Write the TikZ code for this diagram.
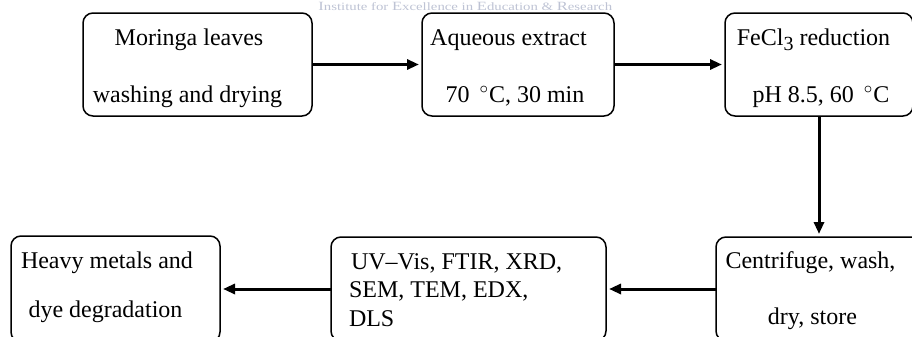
\documentclass[tikz,border=0pt]{standalone}
\usepackage{fontspec}
\setmainfont{Liberation Serif}
\usetikzlibrary{arrows.meta}
\definecolor{wmc}{RGB}{190,195,212}
\begin{document}
\begin{tikzpicture}[x=0.5pt,y=-0.5pt,
  box/.style={draw, line width=0.75pt, rounded corners=5pt, inner sep=0pt, outer sep=0pt},
  txt/.style={inner sep=0pt, outer sep=0pt, font=\fontsize{12}{14}\selectfont},
  arr/.style={line width=1.5pt, -{Triangle[length=6pt,width=5pt]}, shorten >=1.5pt}]
\useasboundingbox (0,0) rectangle (912,337);
\clip (0,0) rectangle (912,337);
% watermark
\node[inner sep=0pt, anchor=base west, text=wmc, font=\fontsize{6.6}{8}\selectfont] (wm) at (318,10.5)
  {\scalebox{1.12}[0.85]{{\fontsize{7.4}{9}\selectfont I}nstitute for {\fontsize{7.4}{9}\selectfont E}xcellence in {\fontsize{7.4}{9}\selectfont E}ducation \& {\fontsize{7.4}{9}\selectfont R}esearch}};
% boxes
\node[box, minimum width=114.5pt, minimum height=51.5pt] (b1) at (197.5,64.5) {};
\node[box, minimum width=96pt,    minimum height=51.5pt] (b2) at (518,64.5) {};
\node[box, minimum width=94pt,    minimum height=51.5pt] (b3) at (819,64.5) {};
\node[box, minimum width=103pt,   minimum height=52pt]   (b4) at (819,289) {};
\node[box, minimum width=137.5pt, minimum height=52pt]   (b5) at (468.5,289) {};
\node[box, minimum width=104.5pt, minimum height=53pt]   (b6) at (115.5,289) {};
% texts
\node[txt, anchor=base] (t1a) at (189,46) {Moringa leaves};
\node[txt, anchor=base] (t1b) at (187.5,102) {washing and drying};
\node[txt, anchor=base] (t2a) at (508.5,46) {Aqueous extract};
\node[txt, anchor=base] (t2b) at (515,102.5) {70 \,$^\circ$C, 30 min};
\node[txt, anchor=base] (t3a) at (813.5,46) {FeCl\raisebox{-0.45ex}{\fontsize{10}{11}\selectfont 3} reduction};
\node[txt, anchor=base] (t3b) at (821,102) {pH 8.5, 60 \,$^\circ$C};
\node[txt, anchor=base] (t4a) at (810.5,268) {Centrifuge, wash,};
\node[txt, anchor=base] (t4b) at (812.5,324) {dry, store};
\node[txt, anchor=base west] (t5a) at (351,269) {UV--Vis, FTIR, XRD,};
\node[txt, anchor=base west] (t5b) at (349,297) {SEM, TEM, EDX,};
\node[txt, anchor=base west] (t5c) at (349,326) {DLS};
\node[txt, anchor=base west] (t6a) at (21,268) {Heavy metals and};
\node[txt, anchor=base] (t6b) at (105.5,317) {dye degradation};
% arrows
\draw[arr] (b1.east) -- (b2.west);
\draw[arr] (b2.east) -- (b3.west);
\draw[arr] (b3.south) -- (b4.north);
\draw[arr] (b4.west) -- (b5.east);
\draw[arr] (b5.west) -- (b6.east);
\end{tikzpicture}
\end{document}
